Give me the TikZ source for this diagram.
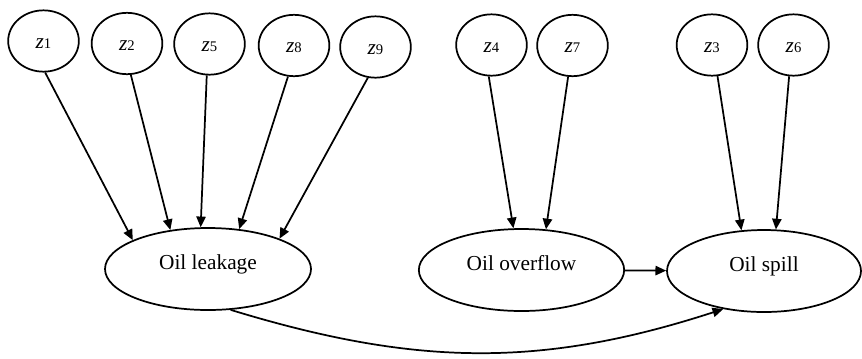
\documentclass[tikz,border=0pt]{standalone}
\usepackage{fontspec}
\setmainfont{Liberation Serif}
\usepackage{tikz}
\usetikzlibrary{positioning,arrows.meta,shapes.geometric}
\definecolor{ink}{HTML}{000000}
\newcommand{\zlab}[1]{\textit{z}{\fontsize{11}{11}\selectfont #1}}

\begin{document}
\begin{tikzpicture}[x=0.75pt,y=0.75pt,font=\fontsize{16}{18}\selectfont,
  cause/.style={ellipse,draw=ink,line width=1.3pt,minimum width=53pt,minimum height=46pt,inner sep=0pt,text height=11pt},
  event/.style={ellipse,draw=ink,line width=1.3pt,minimum height=61.5pt,inner sep=0pt,text height=1.6ex,text depth=1.6ex},
  arr/.style={-{Triangle[length=8pt,width=7pt]},line width=1.3pt,draw=ink}]
  \useasboundingbox (0,0) rectangle (862,-358);
  \foreach \n/\x/\y in {1/43.5/41,2/127/43.5,5/209.5/44,8/294/45.5,9/375.5/47,4/491.5/45,7/572.5/45.5,3/712/45,6/793.5/45}
    \node[cause] (z\n) at (\x,-\y) {\zlab{\n}};
  \node[event,minimum width=154.5pt] (leak) at (208,-269) {Oil leakage};
  \node[event,minimum width=154pt] (over) at (521.5,-270) {Oil overflow};
  \node[event,minimum width=145.5pt] (spill) at (764,-271) {Oil spill};
  \foreach \n/\a/\b in {1/273/159,2/277/134,5/265/100,8/259/52,9/256/23}
    \draw[arr] (z\n.\a) -- (leak.\b);
  \foreach \n/\a/\b in {4/265/101,7/262/59}
    \draw[arr] (z\n.\a) -- (over.\b);
  \foreach \n/\a/\b in {3/280/119,6/262/74}
    \draw[arr] (z\n.\a) -- (spill.\b);
  \draw[arr] (over) -- (spill);
  \draw[arr] (leak.-61) to[out=-17,in=198] (spill.223);
\end{tikzpicture}
\end{document}
